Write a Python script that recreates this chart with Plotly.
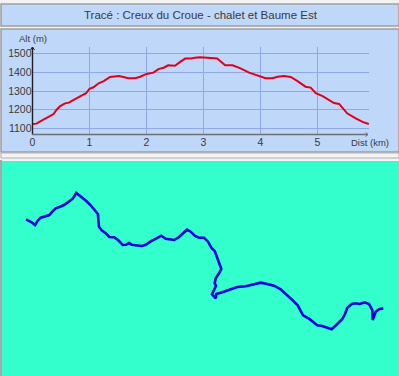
import plotly.graph_objects as go

title = "Tracé : Creux du Croue - chalet et Baume Est"
dist_km = [0, .07, .16, .25, .37, .42, .48, .57, .64, .73, .83, .94, 1.0, 1.07, 1.16, 1.25, 1.36, 1.45, 1.52, 1.61,
           1.68, 1.80, 1.89, 2.0, 2.12, 2.21, 2.30, 2.38, 2.50, 2.59, 2.68, 2.79, 2.85, 2.94, 2.99, 3.13, 3.24, 3.38,
           3.51, 3.65, 3.80, 4.0, 4.09, 4.21, 4.30, 4.41, 4.53, 4.65, 4.79, 4.88, 4.97, 5.09, 5.20, 5.29, 5.38, 5.52,
           5.67, 5.79, 5.90]
alt_m = [1124, 1126, 1142, 1158, 1177, 1199, 1218, 1234, 1238, 1254, 1272, 1288, 1312, 1320, 1341, 1353, 1375, 1378,
         1380, 1373, 1368, 1368, 1376, 1391, 1398, 1417, 1424, 1437, 1435, 1455, 1473, 1473, 1478, 1480, 1480, 1476,
         1473, 1437, 1437, 1421, 1398, 1378, 1368, 1368, 1376, 1380, 1375, 1353, 1323, 1318, 1288, 1273, 1252, 1236,
         1231, 1181, 1154, 1135, 1124]
x_ticks = [0, 1, 2, 3, 4, 5]
y_ticks = [1100, 1200, 1300, 1400, 1500]

map_x = [26, 31.7, 35, 37.7, 40.7, 45, 49.3, 52.3, 55.7, 60, 64, 68.3, 72.7, 76.3, 81, 86, 90.7, 95, 98, 98.3, 99,
         101.7, 105.7, 109.3, 114.3, 118.3, 122.7, 126, 129, 131.7, 136.7, 141.7, 145.7, 150.7, 156, 161.3, 165.7,
         170, 174.3, 179, 183.3, 187, 190.7, 195, 199, 204, 208, 211.7, 214.7, 217.3, 219.7, 221.3, 219, 215.7,
         214.7, 216, 214, 212, 215.7, 216.3, 222.3, 229, 237.3, 245.7, 254, 260.7, 267.3, 274, 280.7, 286.3, 292.3,
         297.7, 300.7, 303, 309, 317.3, 322.3, 327.3, 331.7, 337.3, 342.3, 345, 347.3, 351.7, 355.7, 359.7, 364.7,
         369, 372.3, 372.7, 375.7, 379, 383.3]
map_y = [219.3, 222.3, 225, 220.7, 217.7, 216, 215, 211.7, 208.3, 206.7, 205, 202, 198.7, 193, 196.7, 200.7, 205.3,
         210.3, 214.3, 220, 226.7, 230.3, 233.3, 237, 237.3, 240.3, 245, 244.7, 243, 244.7, 245, 246, 244.7, 241.3,
         238.7, 235.7, 238.7, 239.3, 240, 237, 233, 229.7, 231.7, 236, 237.7, 237.7, 241.7, 248.3, 251, 257.7, 263.3,
         269, 273.3, 278.3, 283.3, 285.7, 290, 294.3, 298.3, 294, 292.3, 290, 287, 286.3, 284.7, 282.7, 284, 285.7,
         289.3, 294, 300, 305.3, 311.3, 315.3, 318.7, 325.3, 326, 327.7, 329.3, 324, 319, 314, 307.7, 304, 303.3, 304,
         302.3, 304, 310, 320, 311.7, 309.3, 308.3]

W, H = 399, 376
PANEL = "#BFD7F8"
EDGE = "#A0A0A0"
GRID = "#8FA8E8"
TEXT = "#3A3A3A"
SEA = "#33FFCC"
AX = "#202020"
AX2 = "#707070"
PX = 57.0
PY = 18.75


def fx(v):
    return v / W


def fy(v):
    return 1 - v / H


fig = go.Figure()
fig.add_trace(go.Scatter(x=dist_km, y=alt_m, mode="lines", line=dict(color="#E0001B", width=2), hoverinfo="skip",
                         xaxis="x", yaxis="y", cliponaxis=False))
fig.add_trace(go.Scatter(x=map_x, y=map_y, mode="lines", line=dict(color="#0000E0", width=2.6), hoverinfo="skip",
                         xaxis="x2", yaxis="y2"))

shapes = []


def rect(x0, y0, x1, y1, fill, line=None, lw=0, layer="below"):
    shapes.append(dict(type="rect", xref="paper", yref="paper", x0=fx(x0), x1=fx(x1), y0=fy(y1), y1=fy(y0),
                       fillcolor=fill, line=dict(color=line or fill, width=lw), layer=layer))


def seg(x0, y0, x1, y1, color, lw=1.0):
    shapes.append(dict(type="line", xref="paper", yref="paper", x0=fx(x0), x1=fx(x1), y0=fy(y0), y1=fy(y1),
                       line=dict(color=color, width=lw), layer="above"))


rect(0, 0, 399, 376, "#F2F2F2")
rect(1, 4, 399, 26, PANEL, EDGE, 1.5)
rect(1, 29, 399, 152, PANEL, EDGE, 1.5)
rect(1, 153, 399, 158, "#F4F4F4", "#B0B0B0", 1)
rect(2, 161, 399, 376, SEA)
rect(0, 160, 2, 376, "#A8A8A8")

seg(32.5, 134.5, 32.5, 47, AX, 1.4)
seg(32.5, 47, 30.5, 50, AX)
seg(32.5, 47, 34.5, 50, AX)
seg(32.5, 134.5, 368, 134.5, AX2, 1.4)
seg(368, 134.5, 365.5, 132.5, AX2)
seg(368, 134.5, 365.5, 136.5, AX2)

annotations = [
    dict(text=title, x=fx(201), y=fy(15), xref="paper", yref="paper", showarrow=False, xanchor="center",
         yanchor="middle", font=dict(family="Liberation Sans", size=11.5, color=TEXT)),
    dict(text="Alt (m)", x=fx(32.5), y=fy(38.5), xref="paper", yref="paper", showarrow=False, xanchor="center",
         yanchor="middle", font=dict(family="Liberation Sans", size=9.5, color=TEXT)),
    dict(text="Dist (km)", x=fx(370), y=fy(143), xref="paper", yref="paper", showarrow=False, xanchor="center",
         yanchor="middle", font=dict(family="Liberation Sans", size=9.5, color=TEXT)),
]

x_end = (369 - 32.5) / PX
fig.update_layout(
    width=W, height=H, autosize=False, margin=dict(l=0, r=0, t=0, b=0, pad=0, autoexpand=False), showlegend=False,
    paper_bgcolor="#F2F2F2", plot_bgcolor="rgba(0,0,0,0)", shapes=shapes, annotations=annotations,
    xaxis=dict(domain=[fx(32.5), fx(369)], range=[0, x_end], tickvals=x_ticks, ticks="", showgrid=True,
               gridcolor=GRID, gridwidth=1, zeroline=False, showline=False, automargin=False,
               tickfont=dict(family="Liberation Sans", size=10.5, color=TEXT)),
    yaxis=dict(domain=[fy(134.5), fy(47)], range=[1100 - 6 / PY * 100, 1500 + 6.5 / PY * 100], tickvals=y_ticks,
               ticks="", showgrid=True, gridcolor=GRID, gridwidth=1, zeroline=False, showline=False, automargin=False,
               tickfont=dict(family="Liberation Sans", size=10.5, color=TEXT)),
    xaxis2=dict(domain=[0, 1], range=[0, W], visible=False, anchor="y2"),
    yaxis2=dict(domain=[0, fy(161)], range=[376, 161], visible=False, anchor="x2"),
)
fig.write_html("out.html", config=dict(displayModeBar=False), post_script="document.body.style.margin='0';")
